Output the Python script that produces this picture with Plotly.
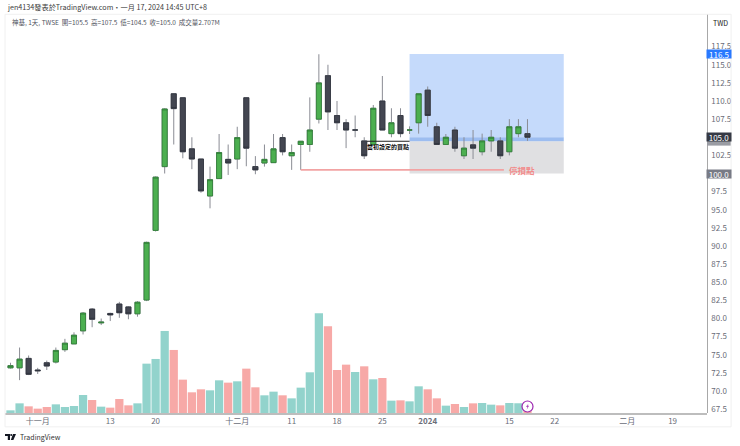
import plotly.graph_objects as go

# daily bars, 27 Oct 2023 - 17 Jan 2024
opens = [73.2, 73.2, 74.5, 72.9, 73.9, 74.0, 75.7, 76.5, 78.3, 81.3, 79.4, 80.7, 82.0, 81.6, 80.65, 82.55,
         92.15, 100.95, 111.0, 110.45, 103.4, 102.0, 96.9, 99.3, 101.95, 102.0, 110.45, 100.95, 101.45, 101.5,
         104.95, 102.45, 104.0, 104.0, 107.5, 113.5, 108.0, 107.0, 106.0, 104.5, 104.0, 110.0, 105.5, 108.0,
         106.0, 107.0, 111.5, 106.45, 104.0, 106.0, 102.45, 103.95, 103.0, 104.5, 104.5, 103.0, 105.5, 105.5]
highs = [73.9, 76.0, 74.9, 73.2, 74.2, 76.0, 77.2, 78.1, 80.9, 81.45, 80.0, 80.8, 82.3, 81.7, 82.4, 90.6,
         99.6, 109.0, 111.05, 110.5, 105.0, 102.0, 100.95, 105.45, 104.0, 106.45, 110.5, 102.4, 104.0, 105.45,
         105.45, 104.0, 104.45, 110.5, 116.45, 115.0, 110.0, 107.5, 108.0, 105.0, 109.45, 113.45, 109.0, 109.0,
         106.5, 111.0, 112.0, 107.0, 105.45, 106.45, 105.0, 106.0, 105.5, 106.0, 105.0, 107.5, 107.5, 107.5]
lows = [73.1, 71.5, 72.2, 72.35, 72.9, 73.8, 75.4, 76.5, 77.8, 78.8, 79.1, 79.65, 80.1, 79.9, 80.25, 82.4,
        92.0, 100.0, 104.0, 102.1, 100.6, 97.35, 95.2, 99.3, 99.8, 100.6, 101.0, 99.9, 100.95, 101.5,
        102.5, 100.5, 100.5, 103.0, 106.9, 106.0, 106.0, 103.5, 105.0, 102.0, 104.0, 106.0, 105.0, 105.0,
        105.45, 105.5, 106.45, 104.0, 104.0, 103.0, 102.0, 102.0, 102.5, 103.0, 102.0, 102.5, 105.0, 104.5]
closes = [73.5, 74.4, 72.3, 72.8, 73.45, 75.6, 76.6, 77.7, 80.75, 79.9, 79.5, 80.5, 80.8, 80.65, 82.25, 90.5,
          99.5, 108.9, 108.95, 103.0, 102.0, 97.6, 99.15, 102.9, 101.45, 104.95, 103.5, 100.5, 101.95, 103.4,
          103.0, 102.9, 104.45, 106.0, 112.5, 108.5, 107.0, 106.0, 106.0, 102.45, 109.0, 106.0, 107.0, 105.5,
          106.0, 111.0, 108.0, 104.0, 105.0, 103.5, 103.5, 103.5, 104.5, 105.0, 102.45, 106.45, 106.45, 105.0]
volumes = [0.77, 2.80, 1.93, 1.26, 1.74, 2.51, 1.74, 2.03, 5.22, 3.77, 1.84, 1.55, 4.06, 2.22, 2.80, 14.31,
           15.67, 23.79, 18.28, 9.67, 6.00, 6.87, 6.58, 9.48, 8.80, 9.19, 12.86, 7.45, 5.13, 6.19,
           5.13, 4.25, 7.35, 11.80, 28.91, 25.14, 12.47, 14.02, 11.89, 13.54, 9.77, 10.15, 3.58, 3.67,
           3.38, 7.74, 6.87, 4.25, 2.13, 2.61, 1.74, 2.80, 2.90, 2.42, 2.22, 2.90, 2.80, 2.707]

tick_pos = [3, 11, 16, 25, 31, 36, 41, 46, 55, 60, 68, 73]
tick_labels = ["十一月", "13", "20", "十二月", "11", "18", "25", "<b>2024</b>", "15", "22", "二月", "19"]
# 100.0 and 105.0 sit under the price tags
price_ticks = [67.5, 70.0, 72.5, 75.0, 77.5, 80.0, 82.5, 85.0, 87.5, 90.0, 92.5, 95.0, 97.5,
               102.5, 107.5, 110.0, 112.5, 115.0, 117.5]

# long position drawing
pos_start, pos_end = 44, 61
target, entry, entry_low, stop = 116.5, 105.0, 104.45, 100.0
stop_line_y = 100.5

FONT = "Noto Sans CJK TC"
UP = "#4caf50"
DOWN = "#434651"
bars = list(range(len(closes)))
body_top = [max(o, c) for o, c in zip(opens, closes)]
body_bot = [min(o, c) for o, c in zip(opens, closes)]
vol_colors = ["#92d3cc" if c >= o else "#f7a9a7" for o, c in zip(opens, closes)]

fig = go.Figure()
fig.add_trace(go.Bar(x=bars, y=volumes, marker_color=vol_colors, marker_line_width=0, yaxis="y2"))
# wicks first, bodies on top so the outline can differ from the wick colour
fig.add_trace(go.Candlestick(x=bars, open=opens, high=highs, low=lows, close=closes,
                             increasing=dict(line=dict(color="#8a8c94", width=1), fillcolor=UP),
                             decreasing=dict(line=dict(color="#8a8c94", width=1), fillcolor=DOWN)))
fig.add_trace(go.Candlestick(x=bars, open=opens, high=body_top, low=body_bot, close=closes,
                             increasing=dict(line=dict(color="#2f7d36", width=0.8), fillcolor=UP),
                             decreasing=dict(line=dict(color="#2f323c", width=0.8), fillcolor=DOWN)))

shapes = [
    dict(type="rect", x0=pos_start, x1=pos_end, y0=entry, y1=target, fillcolor="#c5dafb", line_width=0, layer="below"),
    dict(type="rect", x0=pos_start, x1=pos_end, y0=stop, y1=entry_low, fillcolor="#e0e0e2", line_width=0, layer="below"),
    dict(type="rect", x0=pos_start, x1=pos_end, y0=entry_low, y1=entry, fillcolor="#9dbdf0", line_width=0, layer="below"),
    dict(type="line", x0=39.3, x1=pos_start, y0=entry_low, y1=entry_low, line=dict(color="#222222", width=1)),
    dict(type="line", x0=32, x1=54.4, y0=stop_line_y, y1=stop_line_y, line=dict(color="#f2a3a3", width=1.6)),
    # grey tag of the entry price, mostly hidden by the close tag
    dict(type="rect", xref="paper", yref="y", x0=707 / 740, x1=731 / 740, y0=103.85, y1=104.9, fillcolor="#9a9ca3", line_width=0),
    # frame lines
    dict(type="line", xref="paper", yref="paper", x0=0.0068, x1=0.988, y0=0.968, y1=0.968, line=dict(color="#f0f0f0", width=1)),
    dict(type="line", xref="paper", yref="paper", x0=0.0068, x1=0.988, y0=0.043, y1=0.043, line=dict(color="#f0f0f0", width=1)),
    dict(type="line", xref="paper", yref="paper", x0=0.0068, x1=0.0068, y0=0.043, y1=0.968, line=dict(color="#f0f0f0", width=1)),
    dict(type="line", xref="paper", yref="paper", x0=0.988, x1=0.988, y0=0.043, y1=0.968, line=dict(color="#f0f0f0", width=1)),
    # lightning badge on the last bar
    dict(type="circle", xref="paper", yref="paper", x0=522 / 740, x1=533 / 740, y0=1 - 412 / 446, y1=1 - 401 / 446,
         fillcolor="white", line=dict(color="#9c27b0", width=1.2)),
    dict(type="path", xref="paper", yref="paper",
         path=f"M {528.6/740} {1-403.5/446} L {526/740} {1-406.8/446} L {527.6/740} {1-406.8/446} L {526.6/740} {1-409.8/446} "
              f"L {529/740} {1-405.8/446} L {527.5/740} {1-405.8/446} Z",
         fillcolor="#9c27b0", line_width=0),
    # logo
    dict(type="path", xref="paper", yref="paper",
         path=f"M {5/740} {1-434/446} L {10/740} {1-434/446} L {10/740} {1-440/446} L {7.8/740} {1-440/446} L {7.8/740} {1-436/446} L {5/740} {1-436/446} Z",
         fillcolor="#131722", line_width=0),
    dict(type="path", xref="paper", yref="paper",
         path=f"M {13/740} {1-434/446} L {16/740} {1-434/446} L {13.4/740} {1-440/446} L {10.8/740} {1-440/446} Z",
         fillcolor="#131722", line_width=0),
    dict(type="circle", xref="paper", yref="paper", x0=10.2 / 740, x1=12.2 / 740, y0=1 - 436 / 446, y1=1 - 434 / 446,
         fillcolor="#131722", line_width=0),
]


def label(x, y, text, size=8, color="#333333", anchor="left", **kw):
    return dict(xref="paper", yref="paper", x=x / 740, y=1 - y / 446, text=text, showarrow=False,
                xanchor=anchor, yanchor="middle", font=dict(family=FONT, size=size, color=color), **kw)


def price_tag(price, text, bg):
    return dict(xref="paper", yref="y", x=719 / 740, y=price, text=text, showarrow=False, xanchor="center",
                yanchor="middle", bgcolor=bg, width=24, height=8, borderpad=0,
                font=dict(family=FONT, size=8, color="white"))


annotations = [
    label(5, 7.5, "jen4134發表於TradingView.com・一月 17, 2024 14:45 UTC+8", size=7.2, color="#3c3c3c"),
    label(10, 22, "神基, 1天, TWSE  開=105.5  高=107.5  低=104.5  收=105.0  成交量2.707M", size=6.5, color="#50535e"),
    label(720, 23, "TWD", size=7, color="#222222", anchor="center"),
    label(17.5, 437, "TradingView", size=7, color="#333333"),
    dict(x=44.15, y=104.0, xref="x", yref="y", yshift=-2, text="<b>當初設定的買點</b>", showarrow=False, xanchor="right",
         yanchor="middle", font=dict(family=FONT, size=6, color="#111111")),
    dict(x=54.7, y=stop_line_y, xref="x", yref="y", text="<b>停損點</b>", showarrow=False, xanchor="left", yanchor="middle",
         font=dict(family=FONT, size=8.5, color="#f28b8b")),
    price_tag(entry, "105.0", "#363a45"),
    price_tag(stop, "100.0", "#787b86"),
    price_tag(target, "116.5", "#2979ff"),
]

fig.update_layout(
    width=740, height=446, margin=dict(l=0, r=0, t=0, b=0),
    paper_bgcolor="white", plot_bgcolor="rgba(0,0,0,0)",
    showlegend=False, bargap=0.09, boxgap=0.2,
    shapes=shapes, annotations=annotations,
    font=dict(family=FONT, size=8, color="#6a6d78"),
    xaxis=dict(domain=[5 / 740, 706.7 / 740], range=[-0.606, 76.76], rangeslider_visible=False,
               tickmode="array", tickvals=tick_pos, ticktext=tick_labels, showgrid=False, zeroline=False,
               showline=True, linecolor="#bdbdbd", linewidth=1.5, ticks="", tickfont=dict(size=8, color="#6a6d78")),
    yaxis=dict(domain=[1 - 413 / 446, 1 - 14 / 446], range=[66.97, 122.0], side="right", anchor="free", position=706.7 / 740,
               tickmode="array", tickvals=price_ticks, tickformat=".1f", showgrid=False, zeroline=False,
               showline=True, linecolor="#a8a8a8", linewidth=1, ticks="", ticklabelstandoff=2,
               tickfont=dict(size=8, color="#6a6d78")),
    yaxis2=dict(domain=[1 - 413 / 446, 1 - 14 / 446], range=[0, 115.7], overlaying="y", visible=False),
)

fig.write_html("out.html", config=dict(displayModeBar=False), post_script="document.body.style.margin='0';")
